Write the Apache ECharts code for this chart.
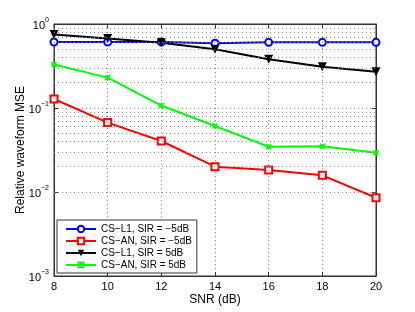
<!DOCTYPE html>
<html><head><meta charset="utf-8">
<script src="https://cdn.jsdelivr.net/npm/echarts@6/dist/echarts.min.js"></script>
<style>html,body{margin:0;padding:0;background:#fff}#c{width:415px;height:312px}</style>
</head><body><div id="c"></div>
<script>
const snr = [8, 10, 12, 14, 16, 18, 20];
const csL1_m5 = [0.61, 0.61, 0.61, 0.59, 0.605, 0.605, 0.605];
const csAN_m5 = [0.128, 0.067, 0.0405, 0.02, 0.0183, 0.0158, 0.00855];
const csL1_p5 = [0.75, 0.67, 0.6, 0.5, 0.38, 0.31, 0.27];
const csAN_p5 = [0.33, 0.23, 0.107, 0.061, 0.0346, 0.035, 0.0294];
const names = ['CS\u2212L1, SIR = \u22125dB', 'CS\u2212AN, SIR = \u22125dB', 'CS\u2212L1, SIR = 5dB', 'CS\u2212AN, SIR = 5dB'];
const minorMult = [2, 3, 4, 5, 6, 7, 8, 9];
const decades = [0.001, 0.01, 0.1];

const minorVals = [];
decades.forEach(d => minorMult.forEach(m => minorVals.push(m * d)));

const font = 'Liberation Sans, Arial, Helvetica, sans-serif';
const zip = arr => snr.map((x, i) => [x, arr[i]]);
const dotted = {type: [1, 3], color: '#8a8a8a', width: 1};
const axisCol = '#333';

const chart = echarts.init(document.getElementById('c'), null, {renderer: 'canvas'});
chart.setOption({
  animation: false,
  textStyle: {fontFamily: font},
  grid: {left: 54, right: 39, top: 24, bottom: 36, show: true, borderColor: axisCol, borderWidth: 1,
         containLabel: false, outerBoundsMode: 'none'},
  xAxis: [{
    type: 'value', min: 8, max: 20, interval: 2,
    name: 'SNR (dB)', nameLocation: 'middle', nameGap: 18, nameMoveOverlap: false,
    nameTextStyle: {fontSize: 12, color: '#000', fontFamily: font},
    axisLine: {show: true, lineStyle: {color: axisCol}},
    axisTick: {show: true, inside: true, length: 4, lineStyle: {color: axisCol}},
    axisLabel: {fontSize: 11, color: '#000', margin: 5, fontFamily: font},
    splitLine: {show: true, lineStyle: dotted}
  }, {
    type: 'value', min: 8, max: 20, interval: 2, position: 'top',
    axisLine: {show: true, lineStyle: {color: axisCol}},
    axisTick: {show: true, inside: true, length: 4, lineStyle: {color: axisCol}},
    axisLabel: {show: false}, splitLine: {show: false}
  }],
  yAxis: [{
    type: 'log', logBase: 10, min: 0.001, max: 1,
    name: 'Relative waveform MSE', nameLocation: 'middle', nameGap: 27, nameMoveOverlap: false,
    nameTextStyle: {fontSize: 12, color: '#000', fontFamily: font},
    axisLine: {show: true, lineStyle: {color: axisCol}},
    axisTick: {show: true, inside: true, length: 4, lineStyle: {color: axisCol}},
    axisLabel: {
      margin: 5, color: '#000',
      formatter: v => {
        const e = Math.round(Math.log10(v));
        return '{b|10}{s|' + (e < 0 ? '\u2212' + (-e) : e) + '}';
      },
      rich: {
        b: {fontSize: 11, fontFamily: font, color: '#000', verticalAlign: 'bottom'},
        s: {fontSize: 7, fontFamily: font, color: '#000', verticalAlign: 'top', padding: [0, 0, 7, 0]}
      }
    },
    splitLine: {show: true, lineStyle: dotted}
  }, {
    type: 'log', logBase: 10, min: 0.001, max: 1, position: 'right',
    axisLine: {show: true, lineStyle: {color: axisCol}},
    axisTick: {show: true, inside: true, length: 4, lineStyle: {color: axisCol}},
    axisLabel: {show: false}, splitLine: {show: false}
  }],
  legend: {
    data: names, orient: 'vertical', left: 57, top: 220,
    backgroundColor: '#fff', borderColor: '#333', borderWidth: 1,
    padding: [3, 5, 2, 8], itemGap: 0, itemWidth: 30, itemHeight: 8,
    textStyle: {fontSize: 10, color: '#000', fontFamily: font, lineHeight: 12}
  },
  series: [
    {
      name: 'grid-minor', type: 'line', data: [], silent: true, z: 0,
      markLine: {silent: true, symbol: ['none', 'none'], label: {show: false},
        lineStyle: dotted, animation: false,
        data: minorVals.map(v => ({yAxis: v}))}
    },
    {name: names[0], type: 'line', data: zip(csL1_m5), color: '#0000ff',
     symbol: 'emptyCircle', symbolSize: 7, lineStyle: {width: 2, color: '#0000ff'},
     itemStyle: {color: '#0000ff', borderWidth: 2}},
    {name: names[1], type: 'line', data: zip(csAN_m5), color: '#ff0000',
     symbol: 'emptyRect', symbolSize: 7, lineStyle: {width: 2, color: '#ff0000'},
     itemStyle: {color: '#ff0000', borderWidth: 2}},
    {name: names[2], type: 'line', data: zip(csL1_p5), color: '#000000',
     symbol: 'triangle', symbolRotate: 180, symbolSize: 9, lineStyle: {width: 2, color: '#000'},
     itemStyle: {color: '#000'}},
    {name: names[3], type: 'line', data: zip(csAN_p5), color: '#00ff00',
     symbol: 'path://M0,0L10,10M10,0L0,10M5,0L5,10M0,5L10,5', symbolSize: 5,
     lineStyle: {width: 2, color: '#00ff00'},
     itemStyle: {color: '#00ff00', borderColor: '#00ff00', borderWidth: 1.5}}
  ]
});
</script></body></html>
